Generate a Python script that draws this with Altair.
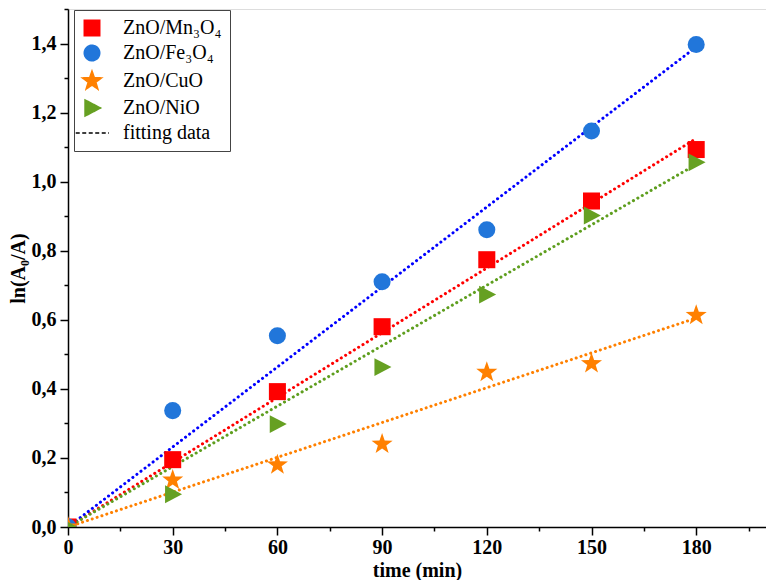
import altair as alt
import pandas as pd

# ---- data ----
time_min = [0, 30, 60, 90, 120, 150, 180]
mn3o4 = [0.0, 0.195, 0.392, 0.580, 0.774, 0.944, 1.093]
fe3o4 = [0.0, 0.337, 0.554, 0.710, 0.861, 1.147, 1.397]
cuo = [0.0, 0.136, 0.180, 0.240, 0.448, 0.473, 0.613]
nio = [0.0, 0.095, 0.298, 0.463, 0.673, 0.902, 1.056]

series_names = ["ZnO/Mn₃O₄", "ZnO/Fe₃O₄", "ZnO/CuO", "ZnO/NiO"]
fit_label = "fitting data"
fit_time = [0, 180]
fit_end = [1.125, 1.390, 0.605, 1.050]

marker_colors = ["#FF0000", "#2176DA", "#FF8000", "#66A022"]
line_colors = ["#FF0000", "#0000FF", "#FF8000", "#5E9E1E"]
STAR = ("M0,-1.3 L0.306,-0.421 L1.236,-0.402 L0.494,0.161 L0.764,1.052 L0,0.52 "
        "L-0.764,1.052 L-0.494,0.161 L-1.236,-0.402 L-0.306,-0.421 Z")
TRI_RIGHT = "M-0.9,-1.05 L1.1,0 L-0.9,1.05 Z"
FIT_SYMBOL = "M-2.1,0 L2.2,0"
marker_shapes = ["square", "circle", STAR, TRI_RIGHT]

x_major = [0, 30, 60, 90, 120, 150, 180]
x_minor = [15, 45, 75, 105, 135, 165, 195]
y_major = [0.0, 0.2, 0.4, 0.6, 0.8, 1.0, 1.2, 1.4]
y_minor = [0.1, 0.3, 0.5, 0.7, 0.9, 1.1, 1.3, 1.5]

# ---- tables ----
series_values = [mn3o4, fe3o4, cuo, nio]
pts_rows = []
for name, vals in zip(series_names, series_values):
    for t, v in zip(time_min, vals):
        pts_rows.append({"series": name, "time": t, "value": v})
pts = pd.DataFrame(pts_rows)

fit_rows = []
for name, end in zip(series_names, fit_end):
    fit_rows.append({"series": name, "time": fit_time[0], "value": 0.0})
    fit_rows.append({"series": name, "time": fit_time[1], "value": end})
fit = pd.DataFrame(fit_rows)

legend_domain = series_names + [fit_label]
FONT = "Liberation Serif"

x_scale = alt.Scale(domain=[0, 200], nice=False, zero=False)
y_scale = alt.Scale(domain=[0, 1.5], nice=False, zero=False)

common = dict(
    grid=False,
    labelFont=FONT, labelFontSize=20, labelFontWeight="bold", labelColor="black",
    titleFont=FONT, titleFontSize=20, titleFontWeight="bold", titleColor="black",
    labelOverlap=False, labelFlush=False,
    domainColor="black", domainWidth=1.5, tickColor="black", tickWidth=1.5,
)
x_axis = alt.Axis(title="time (min)", values=x_major, tickSize=8, labelPadding=2, titlePadding=3,
                  orient="bottom", **common)
y_axis = alt.Axis(title="ln(A₀/A)", values=y_major, tickSize=8, labelPadding=4, titlePadding=3,
                  orient="left", labelExpr="replace(format(datum.value, '.1f'), '.', ',')", **common)
x_axis_minor = alt.Axis(title=None, values=x_minor, tickSize=4, labels=False, domain=False,
                        orient="bottom", tickColor="black", tickWidth=1.5, grid=False)
y_axis_minor = alt.Axis(title=None, values=y_minor, tickSize=4, labels=False, domain=False,
                        orient="left", tickColor="black", tickWidth=1.5, grid=False)

layers = []
for i, (name, col) in enumerate(zip(series_names, line_colors)):
    layers.append(
        alt.Chart(fit)
        .transform_filter(alt.datum.series == name)
        .mark_line(color=col, strokeWidth=3, strokeDash=[0.1, 5], strokeCap="round", clip=True)
        .encode(
            x=alt.X("time:Q", scale=x_scale, axis=x_axis_minor if i == 0 else None),
            y=alt.Y("value:Q", scale=y_scale, axis=y_axis_minor if i == 0 else None),
        )
    )

legend = alt.Legend(
    title=None, orient="none", legendX=6, legendY=1,
    strokeColor="#444444", fillColor="white", padding=8,
    labelFont=FONT, labelFontSize=20, labelColor="black",
    rowPadding=3, symbolStrokeWidth=1.5, symbolSize=240, labelOffset=21,
)

points = (
    alt.Chart(pts)
    .mark_point(filled=True, opacity=1, strokeWidth=0, size=290, clip=True)
    .encode(
        x=alt.X("time:Q", scale=x_scale, axis=x_axis),
        y=alt.Y("value:Q", scale=y_scale, axis=y_axis),
        color=alt.Color("series:N", scale=alt.Scale(domain=legend_domain, range=marker_colors + ["#000000"]), legend=legend),
        stroke=alt.Stroke("series:N", scale=alt.Scale(domain=legend_domain, range=marker_colors + ["#000000"]), legend=legend),
        shape=alt.Shape("series:N", scale=alt.Scale(domain=legend_domain, range=marker_shapes + [FIT_SYMBOL]), legend=legend),
        strokeDash=alt.StrokeDash("series:N", scale=alt.Scale(domain=legend_domain, range=[[1, 0], [1, 0], [1, 0], [1, 0], [4, 2.5]]), legend=legend),
    )
)
layers.append(points)

chart = (
    alt.layer(*layers)
    .resolve_axis(x="independent", y="independent")
    .properties(
        width=758, height=572,
        autosize=alt.AutoSizeParams(type="fit", contains="padding"),
        padding={"left": 0, "top": 0, "right": 0, "bottom": 0},
    )
    .configure_view(stroke="black", strokeWidth=1.5)
    .configure(background="white")
)

chart.save("out.html", embed_options={"renderer": "svg", "actions": False})
